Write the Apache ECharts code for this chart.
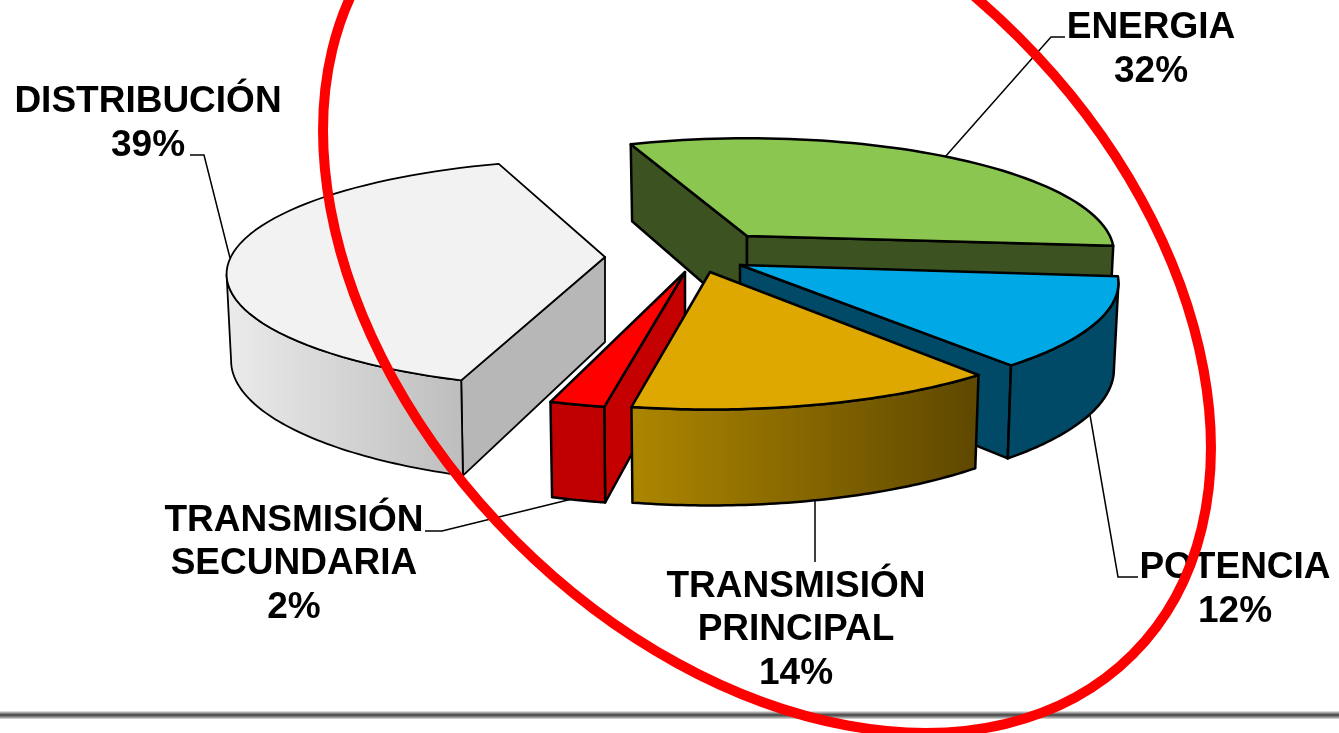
<!DOCTYPE html>
<html>
<head>
<meta charset="utf-8">
<style>html,body{margin:0;padding:0;background:#fff}#chart{width:1339px;height:733px}</style>
<script src="https://cdn.jsdelivr.net/npm/echarts@6/dist/echarts.min.js"></script>
</head>
<body>
<div id="chart"></div>
<script>
// chart values
var categories = ['ENERGIA', 'POTENCIA', 'TRANSMISIÓN\nPRINCIPAL', 'TRANSMISIÓN\nSECUNDARIA', 'DISTRIBUCIÓN'];
var shares = [32, 12, 14, 2, 39];

// look of each slice, same order as categories
var topColors = ['#8bc650', '#00a9e6', '#dfa800', '#fe0000', '#f2f2f2'];
var cutColors = ['#3c5220', '#004a68', '#5f4800', '#c40000', '#b7b7b7'];
var wallFrom = ['#3c5220', '#004a68', '#ad8600', '#c00000', '#ebebeb'];
var wallTo = ['#3c5220', '#004a68', '#5e4700', '#c00000', '#bdbdbd'];
var edgeWidth = [2.5, 2.5, 2.5, 2.5, 1.8];
var paintOrder = [4, 0, 3, 1, 2];

// pie layout
var pieCenter = [705, 255];
var explode = [[42, -19], [35, 10], [5, 17], [-20, 17], [-100, 2]];
var radiusScale = [0.96, 0.99, 1, 1, 0.99];
var flatten = [1, 1, 1, 1, 0.97];
// small corrections of the cut angles, the source pie was not quite regular
var cutNudge = [[-2.5, -2.5], [-2, -1], [0, -1.8], [-1.5, -1.5], [0, 0]];
var radiusX = 378, radiusY = 117, perspective = 0.149, thickness = 85;
var startAngle = -18.9;

// label layout: anchor of the text block, then the leader line
var labelPos = [[1151, 50], [1235, 590], [796, 630], [294, 564], [148, 124]];
var leaders = [
  [[945, 157], [1051, 37], [1065, 37]],
  [[1090, 415], [1118, 577], [1138, 577]],
  [[815, 500], [815, 562]],
  [[572, 499], [442, 531], [425, 531]],
  [[230, 258], [204, 155], [190, 155]]
];

var total = shares.reduce(function (a, b) { return a + b; }, 0);
var angles = [startAngle];
shares.forEach(function (v, i) {
  angles.push(angles[i] + echarts.number.linearMap(v, [0, total], [0, 360]));
});
// angle where the rim is widest on screen
var silhouette = Math.acos(-perspective) * 180 / Math.PI;

function scaleAt(deg) {
  return 1 / (1 + perspective * Math.cos(deg * Math.PI / 180));
}

// rim point of slice i at an angle, clockwise from the top
function rim(i, deg, lift) {
  var a = deg * Math.PI / 180, s = scaleAt(deg) * radiusScale[i];
  var taper = lift ? 0.988 : 1;
  return [
    pieCenter[0] + explode[i][0] + radiusX * s * taper * Math.sin(a),
    pieCenter[1] + explode[i][1] - radiusY * s * flatten[i] * Math.cos(a) +
      (lift ? thickness * Math.pow(scaleAt(deg), 0.75) : 0)
  ];
}

function apex(i, lift) {
  return [pieCenter[0] + explode[i][0], pieCenter[1] + explode[i][1] + (lift ? thickness : 0)];
}

function arcPoints(i, from, to, lift) {
  var pts = [], n = 60;
  for (var k = 0; k <= n; k++) {
    pts.push(rim(i, from + (to - from) * k / n, lift));
  }
  return pts;
}

function poly(points, fill, z2, lineWidth) {
  return {
    type: 'polygon',
    z2: z2,
    shape: { points: points },
    style: { fill: fill, stroke: '#000', lineWidth: lineWidth, lineJoin: 'round' }
  };
}

function renderSlice(params) {
  var i = params.dataIndex;
  var from = angles[i] + cutNudge[i][0], to = angles[i + 1] + cutNudge[i][1];
  var z = paintOrder.indexOf(i) * 10 + 10;
  var w = edgeWidth[i];
  var kids = [];
  // leader line sits behind the pie
  kids.push({
    type: 'polyline', z2: 1,
    shape: { points: leaders[i] },
    style: { fill: null, stroke: '#000', lineWidth: 1.5 }
  });
  // cut faces, only those turned to the viewer
  if (Math.sin(from * Math.PI / 180) < 0) {
    kids.push(poly([apex(i), rim(i, from), rim(i, from, true), apex(i, true)], cutColors[i], z, w));
  }
  if (Math.sin(to * Math.PI / 180) > 0) {
    kids.push(poly([apex(i), rim(i, to), rim(i, to, true), apex(i, true)], cutColors[i], z, w));
  }
  // outer wall, between the two widest points of the rim
  var wa = Math.max(from, silhouette), wb = Math.min(to, 360 - silhouette);
  if (wb > wa) {
    var wall = arcPoints(i, wa, wb).concat(arcPoints(i, wb, wa, true));
    kids.push(poly(wall, new echarts.graphic.LinearGradient(0, 0, 1, 0, [
      { offset: 0, color: wallFrom[i] },
      { offset: 1, color: wallTo[i] }
    ]), z + 1, w));
  }
  // top face
  kids.push(poly([apex(i)].concat(arcPoints(i, from, to)), topColors[i], z + 2, w));
  // label
  kids.push({
    type: 'text', z2: 100,
    x: labelPos[i][0], y: labelPos[i][1],
    style: {
      text: categories[i] + '\n' + shares[i] + '%',
      fill: '#000',
      font: 'bold 37px "Liberation Sans", Arial, sans-serif',
      lineHeight: 43.5,
      align: 'center',
      verticalAlign: 'middle'
    }
  });
  return { type: 'group', children: kids };
}

var myChart = echarts.init(document.getElementById('chart'));
myChart.setOption({
  animation: false,
  backgroundColor: '#fff',
  series: [{
    type: 'custom',
    coordinateSystem: 'none',
    silent: true,
    renderItem: renderSlice,
    data: shares
  }],
  graphic: [
    // rule at the foot of the slide
    {
      type: 'rect', z: 20,
      shape: { x: 0, y: 711, width: 1339, height: 8 },
      style: {
        fill: new echarts.graphic.LinearGradient(0, 0, 0, 1, [
          { offset: 0, color: '#f0f0f0' },
          { offset: 0.45, color: '#4d4d4d' },
          { offset: 0.6, color: '#5a5a5a' },
          { offset: 1, color: '#e0e0e0' }
        ])
      }
    },
    // red hand drawn ring
    {
      type: 'ellipse', z: 30,
      shape: { cx: 767, cy: 289, rx: 517, ry: 356 },
      rotation: -Math.PI / 4,
      originX: 767, originY: 289,
      style: { fill: null, stroke: '#fe0000', lineWidth: 10 }
    }
  ]
});
</script>
</body>
</html>
